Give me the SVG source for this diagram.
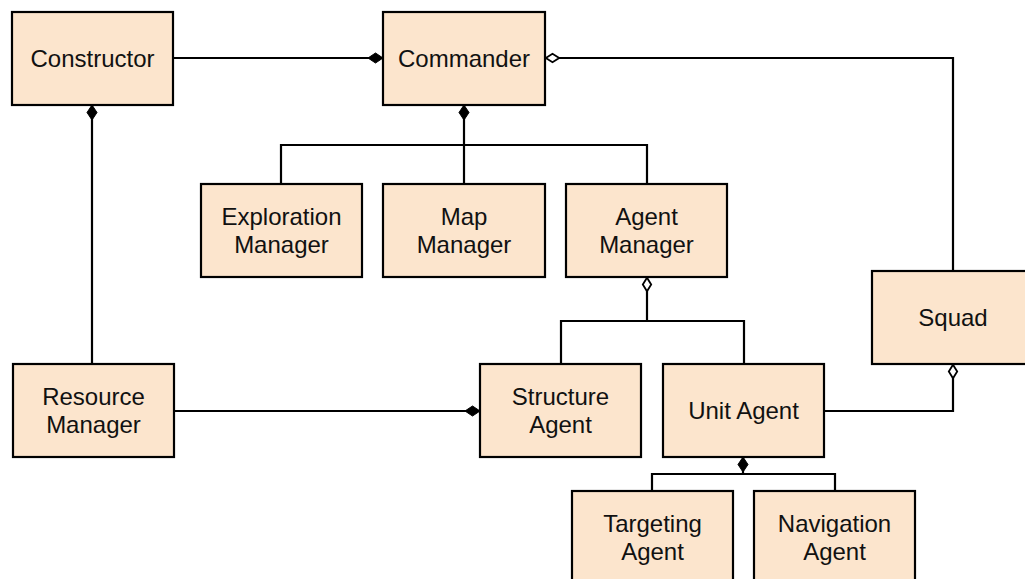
<svg xmlns="http://www.w3.org/2000/svg" width="1025" height="579" viewBox="0 0 1025 579">
  <style>
    .box { fill: #fce5cd; stroke: #000; stroke-width: 2.2; }
    .lbl { font-family: "Liberation Sans", Arial, sans-serif; font-size: 24px; fill: #111; text-anchor: middle; }
    .wire { fill: none; stroke: #000; stroke-width: 2.2; }
    .comp { marker-start: url(#filled); }
    .aggr { marker-start: url(#hollow); }
  </style>
  <defs>
    <marker id="filled" markerUnits="userSpaceOnUse" markerWidth="18" markerHeight="12" viewBox="-1 -1 17 12" refX="0" refY="5" orient="auto">
      <path d="M0,5 L7.5,0 L15,5 L7.5,10 Z" fill="#000" stroke="#000" stroke-width="1"/>
    </marker>
    <marker id="hollow" markerUnits="userSpaceOnUse" markerWidth="18" markerHeight="12" viewBox="-1 -1 17 12" refX="0" refY="5" orient="auto">
      <path d="M0.8,5 L7.5,0.8 L14.2,5 L7.5,9.2 Z" fill="#fff" stroke="#000" stroke-width="1.8"/>
    </marker>
  </defs>
  <rect width="1025" height="579" fill="#fff"/>

  <g id="connectors">
    <path class="wire comp" d="M383,58 H173"/>
    <path class="wire aggr" d="M545,58 H953 V271"/>
    <path class="wire comp" d="M464,105 V184"/>
    <path class="wire" d="M281,184 V145 H647 V184"/>
    <path class="wire comp" d="M92,105 V364"/>
    <path class="wire comp" d="M480,411 H174"/>
    <path class="wire aggr" d="M647,277 V321"/>
    <path class="wire" d="M561,364 V321 H744 V364"/>
    <path class="wire aggr" d="M953,364 V411 H824"/>
    <path class="wire comp" d="M743,457 V474"/>
    <path class="wire" d="M652,491 V474 H835 V491"/>
  </g>

  <g id="constructor">
    <rect class="box" x="12" y="12" width="161" height="93"/>
    <text class="lbl" x="92.5" y="66.8">Constructor</text>
  </g>
  <g id="commander">
    <rect class="box" x="383" y="12" width="162" height="93"/>
    <text class="lbl" x="464" y="66.8">Commander</text>
  </g>
  <g id="exploration-manager">
    <rect class="box" x="201" y="184" width="161" height="93"/>
    <text class="lbl" x="281.5" y="224.8">Exploration</text>
    <text class="lbl" x="281.5" y="252.8">Manager</text>
  </g>
  <g id="map-manager">
    <rect class="box" x="383" y="184" width="162" height="93"/>
    <text class="lbl" x="464" y="224.8">Map</text>
    <text class="lbl" x="464" y="252.8">Manager</text>
  </g>
  <g id="agent-manager">
    <rect class="box" x="566" y="184" width="161" height="93"/>
    <text class="lbl" x="646.5" y="224.8">Agent</text>
    <text class="lbl" x="646.5" y="252.8">Manager</text>
  </g>
  <g id="squad">
    <rect class="box" x="872" y="271" width="162" height="93"/>
    <text class="lbl" x="953" y="325.8">Squad</text>
  </g>
  <g id="resource-manager">
    <rect class="box" x="13" y="364" width="161" height="93"/>
    <text class="lbl" x="93.5" y="405">Resource</text>
    <text class="lbl" x="93.5" y="433">Manager</text>
  </g>
  <g id="structure-agent">
    <rect class="box" x="480" y="364" width="161" height="93"/>
    <text class="lbl" x="560.5" y="405">Structure</text>
    <text class="lbl" x="560.5" y="433">Agent</text>
  </g>
  <g id="unit-agent">
    <rect class="box" x="663" y="364" width="161" height="93"/>
    <text class="lbl" x="743.5" y="419">Unit Agent</text>
  </g>
  <g id="targeting-agent">
    <rect class="box" x="572" y="491" width="161" height="93"/>
    <text class="lbl" x="652.5" y="531.8">Targeting</text>
    <text class="lbl" x="652.5" y="559.8">Agent</text>
  </g>
  <g id="navigation-agent">
    <rect class="box" x="754" y="491" width="161" height="93"/>
    <text class="lbl" x="834.5" y="531.8">Navigation</text>
    <text class="lbl" x="834.5" y="559.8">Agent</text>
  </g>
</svg>
